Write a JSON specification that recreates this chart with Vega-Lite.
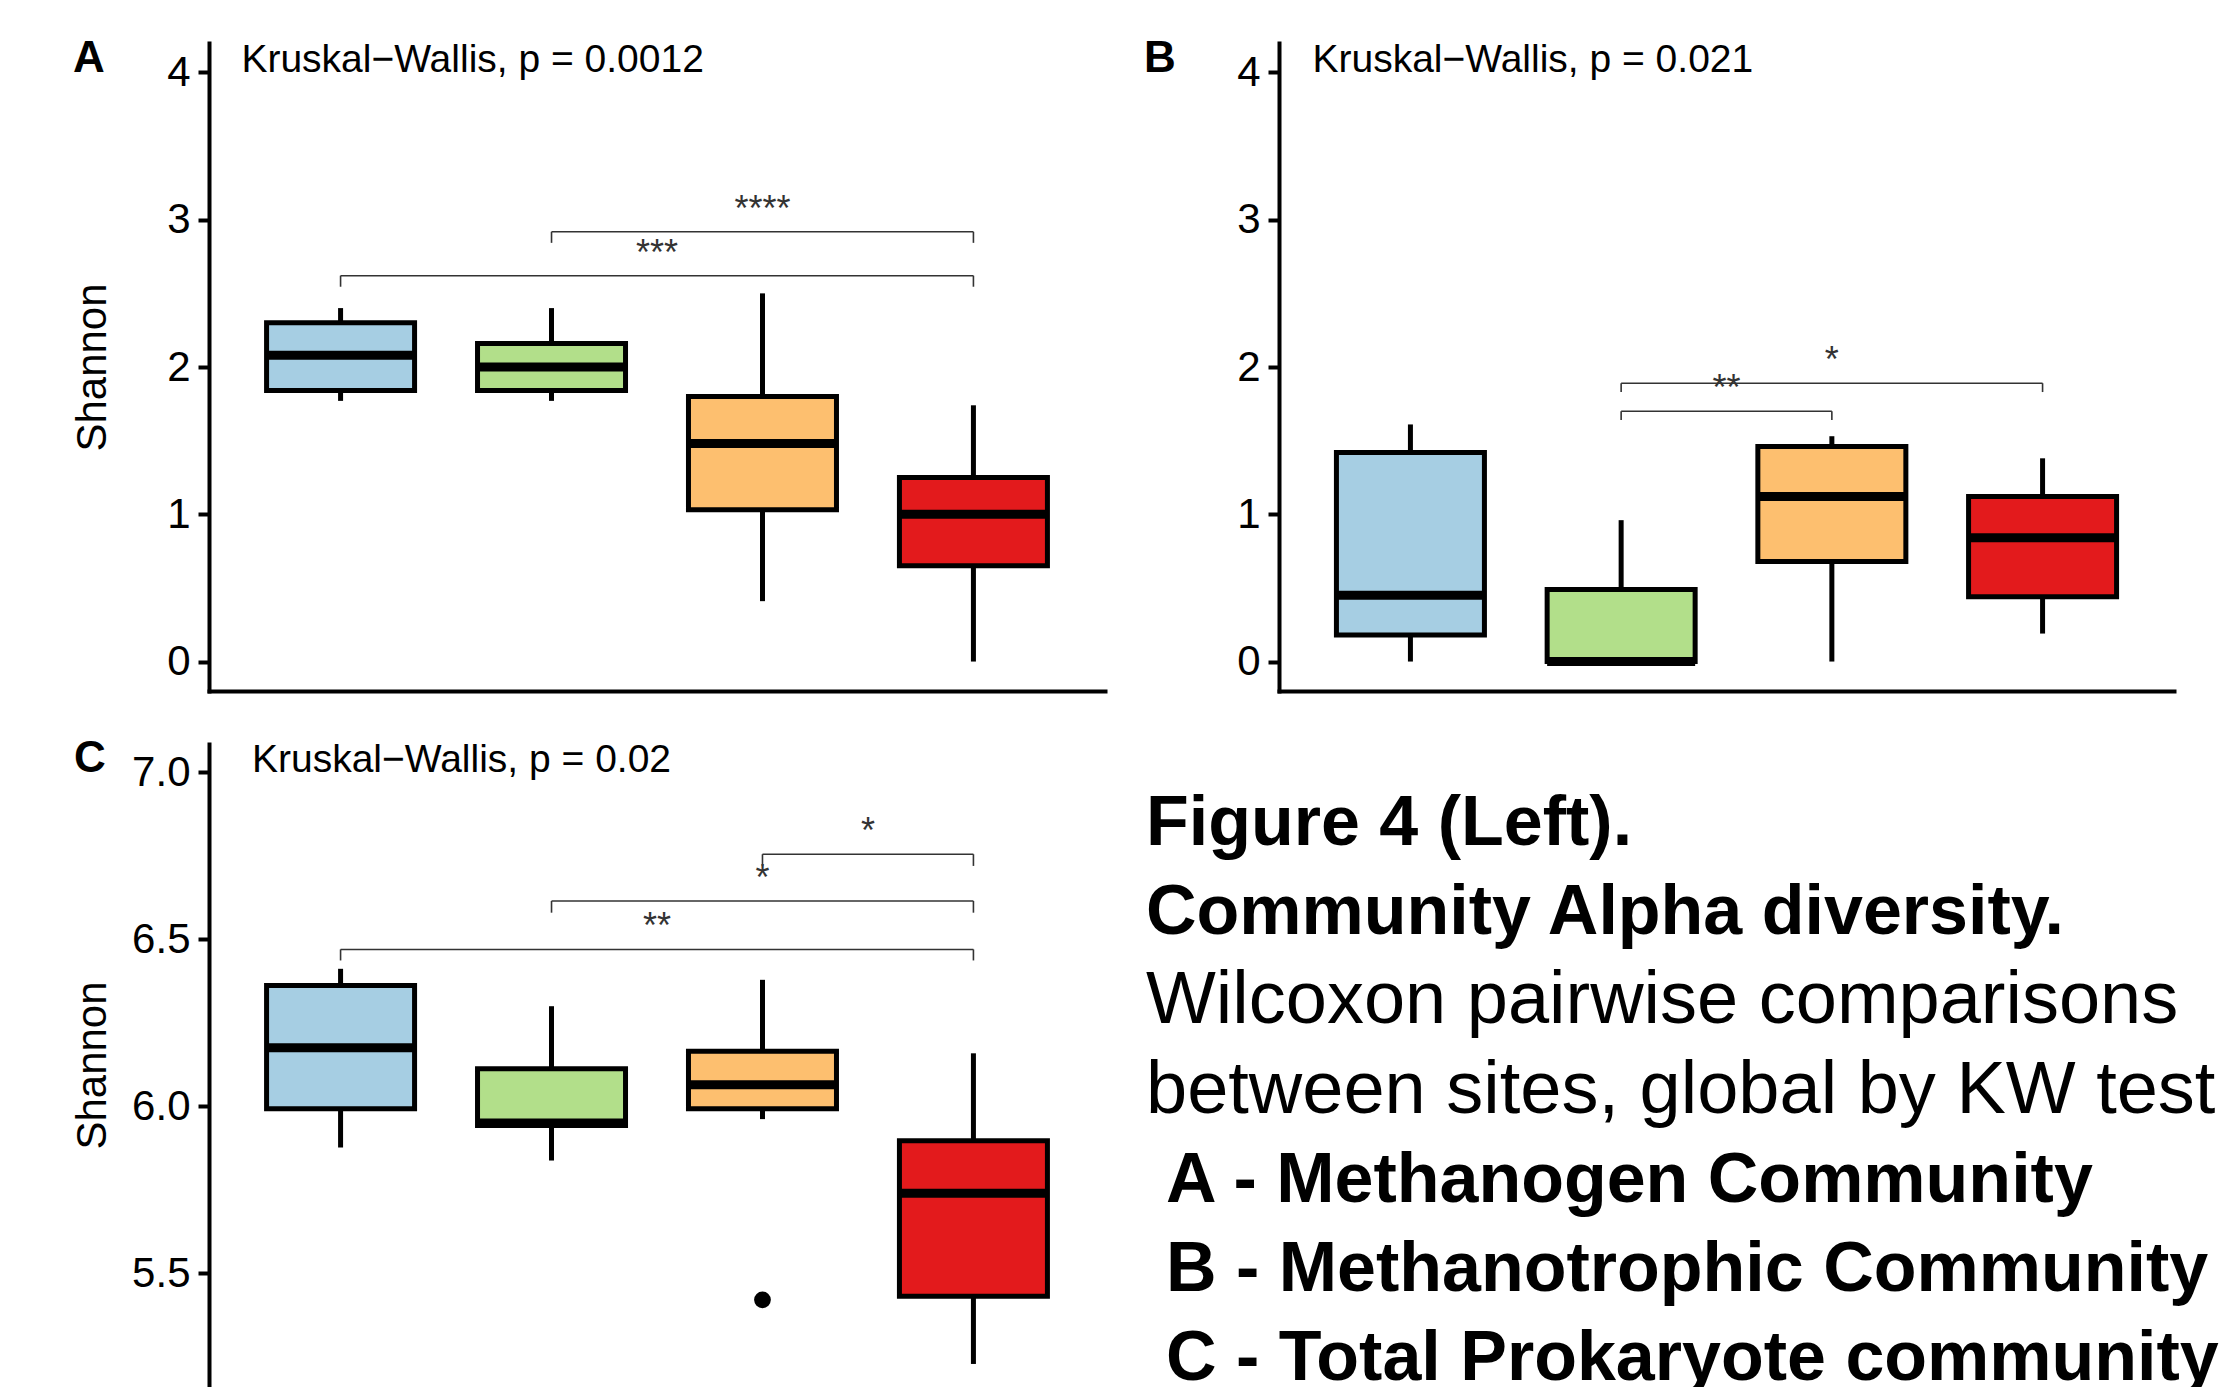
{
  "$schema": "https://vega.github.io/schema/vega-lite/v6.json",
  "background": "white",
  "padding": {"left": 71, "top": 37, "right": 0, "bottom": 0},
  "columns": 2,
  "align": "each",
  "bounds": "flush",
  "spacing": {"column": 174, "row": 53},
  "config": {
    "view": {"stroke": null},
    "font": "Liberation Sans",
    "axis": {
      "grid": false,
      "domainColor": "black",
      "domainWidth": 4,
      "domainCap": "square",
      "tickColor": "black",
      "tickWidth": 4,
      "tickSize": 11,
      "labelColor": "black",
      "labelFontSize": 42,
      "labelPadding": 8,
      "labelFont": "Liberation Sans",
      "titleFont": "Liberation Sans",
      "titleFontSize": 42,
      "titleFontWeight": "normal",
      "titleColor": "black"
    },
    "title": {"font": "Liberation Sans", "fontSize": 44, "fontWeight": "bold", "color": "black"}
  },
  "datasets": {
    "boxesA": [
      {"site": 1, "lower": 1.77, "q1": 1.84, "median": 2.08, "q3": 2.30, "upper": 2.40},
      {"site": 2, "lower": 1.77, "q1": 1.84, "median": 2.00, "q3": 2.16, "upper": 2.40},
      {"site": 3, "lower": 0.41, "q1": 1.03, "median": 1.48, "q3": 1.80, "upper": 2.50},
      {"site": 4, "lower": 0.00, "q1": 0.65, "median": 1.00, "q3": 1.25, "upper": 1.74}
    ],
    "boxesB": [
      {"site": 1, "lower": 0.00, "q1": 0.18, "median": 0.45, "q3": 1.42, "upper": 1.61},
      {"site": 2, "lower": 0.00, "q1": 0.00, "median": 0.00, "q3": 0.49, "upper": 0.96},
      {"site": 3, "lower": 0.00, "q1": 0.68, "median": 1.12, "q3": 1.46, "upper": 1.53},
      {"site": 4, "lower": 0.19, "q1": 0.44, "median": 0.84, "q3": 1.12, "upper": 1.38}
    ],
    "boxesC": [
      {"site": 1, "lower": 5.877, "q1": 5.993, "median": 6.176, "q3": 6.362, "upper": 6.412},
      {"site": 2, "lower": 5.838, "q1": 5.943, "median": 5.950, "q3": 6.113, "upper": 6.300},
      {"site": 3, "lower": 5.962, "q1": 5.993, "median": 6.065, "q3": 6.165, "upper": 6.379},
      {"site": 4, "lower": 5.229, "q1": 5.432, "median": 5.740, "q3": 5.897, "upper": 6.159}
    ],
    "outliersC": [
      {"site": 3, "shannon": 5.421}
    ],
    "sigA": [
      {"x1": 2, "x2": 4, "xmid": 3, "y": 2.918, "yend": 2.843, "label": "****"},
      {"x1": 1, "x2": 4, "xmid": 2.5, "y": 2.62, "yend": 2.545, "label": "***"}
    ],
    "sigB": [
      {"x1": 2, "x2": 4, "xmid": 3, "y": 1.89, "yend": 1.83, "label": "*"},
      {"x1": 2, "x2": 3, "xmid": 2.5, "y": 1.70, "yend": 1.64, "label": "**"}
    ],
    "sigC": [
      {"x1": 3, "x2": 4, "xmid": 3.5, "y": 6.755, "yend": 6.72, "label": "*"},
      {"x1": 2, "x2": 4, "xmid": 3, "y": 6.615, "yend": 6.58, "label": "*"},
      {"x1": 1, "x2": 4, "xmid": 2.5, "y": 6.47, "yend": 6.437, "label": "**"}
    ],
    "kwA": [{"x": 0.53, "y": 4.0, "label": "Kruskal−Wallis, p = 0.0012"}],
    "kwB": [{"x": 0.535, "y": 4.0, "label": "Kruskal−Wallis, p = 0.021"}],
    "kwC": [{"x": 0.58, "y": 7.0, "label": "Kruskal−Wallis, p = 0.02"}],
    "caption": [
      {"line": 1, "text": "Figure 4 (Left).", "role": "heading"},
      {"line": 2, "text": "Community Alpha diversity.", "role": "heading"},
      {"line": 3, "text": "Wilcoxon pairwise comparisons", "role": "note"},
      {"line": 4, "text": "between sites, global by KW test", "role": "note"},
      {"line": 5, "text": "A - Methanogen Community", "role": "panel"},
      {"line": 6, "text": "B - Methanotrophic Community", "role": "panel"},
      {"line": 7, "text": "C - Total Prokaryote community", "role": "panel"}
    ]
  },
  "concat": [
    {
      "width": 896,
      "height": 648,
      "title": {"text": "A", "anchor": "start", "frame": "group", "orient": "top", "offset": 0, "dx": -136, "dy": 75, "baseline": "alphabetic"},
      "layer": [
        {
          "data": {"name": "boxesA"},
          "mark": {"type": "rule", "strokeWidth": 5, "color": "black"},
          "encoding": {
            "x": {"field": "site", "type": "quantitative", "scale": {"domain": [0.4, 4.6], "nice": false, "zero": false}, "axis": {"title": null, "labels": false, "ticks": false, "domain": true}},
            "y": {"field": "lower", "type": "quantitative", "scale": {"domain": [-0.2, 4.2], "nice": false, "zero": false}, "axis": {"title": "Shannon", "values": [0, 1, 2, 3, 4], "titlePadding": 52}},
            "y2": {"field": "q1"}
          }
        },
        {
          "data": {"name": "boxesA"},
          "mark": {"type": "rule", "strokeWidth": 5, "color": "black"},
          "encoding": {
            "x": {"field": "site", "type": "quantitative", "scale": {"domain": [0.4, 4.6], "nice": false, "zero": false}, "axis": {"title": null, "labels": false, "ticks": false, "domain": true}},
            "y": {"field": "q3", "type": "quantitative", "scale": {"domain": [-0.2, 4.2], "nice": false, "zero": false}, "axis": {"title": "Shannon", "values": [0, 1, 2, 3, 4], "titlePadding": 52}},
            "y2": {"field": "upper"}
          }
        },
        {
          "data": {"name": "boxesA"},
          "mark": {"type": "bar", "orient": "vertical", "size": 148, "stroke": "black", "strokeWidth": 5, "opacity": 1},
          "encoding": {
            "x": {"field": "site", "type": "quantitative", "scale": {"domain": [0.4, 4.6], "nice": false, "zero": false}, "axis": {"title": null, "labels": false, "ticks": false, "domain": true}},
            "y": {"field": "q1", "type": "quantitative", "scale": {"domain": [-0.2, 4.2], "nice": false, "zero": false}, "axis": {"title": "Shannon", "values": [0, 1, 2, 3, 4], "titlePadding": 52}},
            "y2": {"field": "q3"},
            "color": {"field": "site", "type": "nominal", "scale": {"domain": [1, 2, 3, 4], "range": ["#A6CEE3", "#B2DF8A", "#FDBF6F", "#E31A1C"]}, "legend": null}
          }
        },
        {
          "data": {"name": "boxesA"},
          "mark": {"type": "tick", "orient": "horizontal", "size": 148, "thickness": 9, "color": "black", "opacity": 1},
          "encoding": {
            "x": {"field": "site", "type": "quantitative", "scale": {"domain": [0.4, 4.6], "nice": false, "zero": false}, "axis": {"title": null, "labels": false, "ticks": false, "domain": true}},
            "y": {"field": "median", "type": "quantitative", "scale": {"domain": [-0.2, 4.2], "nice": false, "zero": false}, "axis": {"title": "Shannon", "values": [0, 1, 2, 3, 4], "titlePadding": 52}}
          }
        },
        {
          "data": {"name": "sigA"},
          "mark": {"type": "rule", "strokeWidth": 1.6, "color": "#333333"},
          "encoding": {
            "x": {"field": "x1", "type": "quantitative", "scale": {"domain": [0.4, 4.6], "nice": false, "zero": false}, "axis": {"title": null, "labels": false, "ticks": false, "domain": true}},
            "x2": {"field": "x2"},
            "y": {"field": "y", "type": "quantitative", "scale": {"domain": [-0.2, 4.2], "nice": false, "zero": false}, "axis": {"title": "Shannon", "values": [0, 1, 2, 3, 4], "titlePadding": 52}}
          }
        },
        {
          "data": {"name": "sigA"},
          "mark": {"type": "rule", "strokeWidth": 1.6, "color": "#333333"},
          "encoding": {
            "x": {"field": "x1", "type": "quantitative", "scale": {"domain": [0.4, 4.6], "nice": false, "zero": false}, "axis": {"title": null, "labels": false, "ticks": false, "domain": true}},
            "y": {"field": "y", "type": "quantitative", "scale": {"domain": [-0.2, 4.2], "nice": false, "zero": false}, "axis": {"title": "Shannon", "values": [0, 1, 2, 3, 4], "titlePadding": 52}},
            "y2": {"field": "yend"}
          }
        },
        {
          "data": {"name": "sigA"},
          "mark": {"type": "rule", "strokeWidth": 1.6, "color": "#333333"},
          "encoding": {
            "x": {"field": "x2", "type": "quantitative", "scale": {"domain": [0.4, 4.6], "nice": false, "zero": false}, "axis": {"title": null, "labels": false, "ticks": false, "domain": true}},
            "y": {"field": "y", "type": "quantitative", "scale": {"domain": [-0.2, 4.2], "nice": false, "zero": false}, "axis": {"title": "Shannon", "values": [0, 1, 2, 3, 4], "titlePadding": 52}},
            "y2": {"field": "yend"}
          }
        },
        {
          "data": {"name": "sigA"},
          "mark": {"type": "text", "fontSize": 36, "color": "#333333", "align": "center", "baseline": "alphabetic", "dy": -11},
          "encoding": {
            "x": {"field": "xmid", "type": "quantitative", "scale": {"domain": [0.4, 4.6], "nice": false, "zero": false}, "axis": {"title": null, "labels": false, "ticks": false, "domain": true}},
            "y": {"field": "y", "type": "quantitative", "scale": {"domain": [-0.2, 4.2], "nice": false, "zero": false}, "axis": {"title": "Shannon", "values": [0, 1, 2, 3, 4], "titlePadding": 52}},
            "text": {"field": "label"}
          }
        },
        {
          "data": {"name": "kwA"},
          "mark": {"type": "text", "fontSize": 39, "color": "black", "align": "left", "baseline": "alphabetic"},
          "encoding": {
            "x": {"field": "x", "type": "quantitative", "scale": {"domain": [0.4, 4.6], "nice": false, "zero": false}, "axis": {"title": null, "labels": false, "ticks": false, "domain": true}},
            "y": {"field": "y", "type": "quantitative", "scale": {"domain": [-0.2, 4.2], "nice": false, "zero": false}, "axis": {"title": "Shannon", "values": [0, 1, 2, 3, 4], "titlePadding": 52}},
            "text": {"field": "label"}
          }
        }
      ]
    },
    {
      "width": 895,
      "height": 648,
      "title": {"text": "B", "anchor": "start", "frame": "group", "orient": "top", "offset": 0, "dx": -135, "dy": 75, "baseline": "alphabetic"},
      "layer": [
        {
          "data": {"name": "boxesB"},
          "mark": {"type": "rule", "strokeWidth": 5, "color": "black"},
          "encoding": {
            "x": {"field": "site", "type": "quantitative", "scale": {"domain": [0.4, 4.6], "nice": false, "zero": false}, "axis": {"title": null, "labels": false, "ticks": false, "domain": true}},
            "y": {"field": "lower", "type": "quantitative", "scale": {"domain": [-0.2, 4.2], "nice": false, "zero": false}, "axis": {"title": null, "values": [0, 1, 2, 3, 4]}},
            "y2": {"field": "q1"}
          }
        },
        {
          "data": {"name": "boxesB"},
          "mark": {"type": "rule", "strokeWidth": 5, "color": "black"},
          "encoding": {
            "x": {"field": "site", "type": "quantitative", "scale": {"domain": [0.4, 4.6], "nice": false, "zero": false}, "axis": {"title": null, "labels": false, "ticks": false, "domain": true}},
            "y": {"field": "q3", "type": "quantitative", "scale": {"domain": [-0.2, 4.2], "nice": false, "zero": false}, "axis": {"title": null, "values": [0, 1, 2, 3, 4]}},
            "y2": {"field": "upper"}
          }
        },
        {
          "data": {"name": "boxesB"},
          "mark": {"type": "bar", "orient": "vertical", "size": 148, "stroke": "black", "strokeWidth": 5, "opacity": 1},
          "encoding": {
            "x": {"field": "site", "type": "quantitative", "scale": {"domain": [0.4, 4.6], "nice": false, "zero": false}, "axis": {"title": null, "labels": false, "ticks": false, "domain": true}},
            "y": {"field": "q1", "type": "quantitative", "scale": {"domain": [-0.2, 4.2], "nice": false, "zero": false}, "axis": {"title": null, "values": [0, 1, 2, 3, 4]}},
            "y2": {"field": "q3"},
            "color": {"field": "site", "type": "nominal", "scale": {"domain": [1, 2, 3, 4], "range": ["#A6CEE3", "#B2DF8A", "#FDBF6F", "#E31A1C"]}, "legend": null}
          }
        },
        {
          "data": {"name": "boxesB"},
          "mark": {"type": "tick", "orient": "horizontal", "size": 148, "thickness": 9, "color": "black", "opacity": 1},
          "encoding": {
            "x": {"field": "site", "type": "quantitative", "scale": {"domain": [0.4, 4.6], "nice": false, "zero": false}, "axis": {"title": null, "labels": false, "ticks": false, "domain": true}},
            "y": {"field": "median", "type": "quantitative", "scale": {"domain": [-0.2, 4.2], "nice": false, "zero": false}, "axis": {"title": null, "values": [0, 1, 2, 3, 4]}}
          }
        },
        {
          "data": {"name": "sigB"},
          "mark": {"type": "rule", "strokeWidth": 1.6, "color": "#333333"},
          "encoding": {
            "x": {"field": "x1", "type": "quantitative", "scale": {"domain": [0.4, 4.6], "nice": false, "zero": false}, "axis": {"title": null, "labels": false, "ticks": false, "domain": true}},
            "x2": {"field": "x2"},
            "y": {"field": "y", "type": "quantitative", "scale": {"domain": [-0.2, 4.2], "nice": false, "zero": false}, "axis": {"title": null, "values": [0, 1, 2, 3, 4]}}
          }
        },
        {
          "data": {"name": "sigB"},
          "mark": {"type": "rule", "strokeWidth": 1.6, "color": "#333333"},
          "encoding": {
            "x": {"field": "x1", "type": "quantitative", "scale": {"domain": [0.4, 4.6], "nice": false, "zero": false}, "axis": {"title": null, "labels": false, "ticks": false, "domain": true}},
            "y": {"field": "y", "type": "quantitative", "scale": {"domain": [-0.2, 4.2], "nice": false, "zero": false}, "axis": {"title": null, "values": [0, 1, 2, 3, 4]}},
            "y2": {"field": "yend"}
          }
        },
        {
          "data": {"name": "sigB"},
          "mark": {"type": "rule", "strokeWidth": 1.6, "color": "#333333"},
          "encoding": {
            "x": {"field": "x2", "type": "quantitative", "scale": {"domain": [0.4, 4.6], "nice": false, "zero": false}, "axis": {"title": null, "labels": false, "ticks": false, "domain": true}},
            "y": {"field": "y", "type": "quantitative", "scale": {"domain": [-0.2, 4.2], "nice": false, "zero": false}, "axis": {"title": null, "values": [0, 1, 2, 3, 4]}},
            "y2": {"field": "yend"}
          }
        },
        {
          "data": {"name": "sigB"},
          "mark": {"type": "text", "fontSize": 36, "color": "#333333", "align": "center", "baseline": "alphabetic", "dy": -11},
          "encoding": {
            "x": {"field": "xmid", "type": "quantitative", "scale": {"domain": [0.4, 4.6], "nice": false, "zero": false}, "axis": {"title": null, "labels": false, "ticks": false, "domain": true}},
            "y": {"field": "y", "type": "quantitative", "scale": {"domain": [-0.2, 4.2], "nice": false, "zero": false}, "axis": {"title": null, "values": [0, 1, 2, 3, 4]}},
            "text": {"field": "label"}
          }
        },
        {
          "data": {"name": "kwB"},
          "mark": {"type": "text", "fontSize": 39, "color": "black", "align": "left", "baseline": "alphabetic"},
          "encoding": {
            "x": {"field": "x", "type": "quantitative", "scale": {"domain": [0.4, 4.6], "nice": false, "zero": false}, "axis": {"title": null, "labels": false, "ticks": false, "domain": true}},
            "y": {"field": "y", "type": "quantitative", "scale": {"domain": [-0.2, 4.2], "nice": false, "zero": false}, "axis": {"title": null, "values": [0, 1, 2, 3, 4]}},
            "text": {"field": "label"}
          }
        }
      ]
    },
    {
      "width": 896,
      "height": 642,
      "title": {"text": "C", "anchor": "start", "frame": "group", "orient": "top", "offset": 0, "dx": -135, "dy": 75, "baseline": "alphabetic"},
      "layer": [
        {
          "data": {"name": "boxesC"},
          "mark": {"type": "rule", "strokeWidth": 5, "color": "black"},
          "encoding": {
            "x": {"field": "site", "type": "quantitative", "scale": {"domain": [0.4, 4.6], "nice": false, "zero": false}, "axis": null},
            "y": {"field": "lower", "type": "quantitative", "scale": {"domain": [5.163, 7.085], "nice": false, "zero": false}, "axis": {"title": "Shannon", "values": [5.5, 6.0, 6.5, 7.0], "format": ".1f", "titlePadding": 17}},
            "y2": {"field": "q1"}
          }
        },
        {
          "data": {"name": "boxesC"},
          "mark": {"type": "rule", "strokeWidth": 5, "color": "black"},
          "encoding": {
            "x": {"field": "site", "type": "quantitative", "scale": {"domain": [0.4, 4.6], "nice": false, "zero": false}, "axis": null},
            "y": {"field": "q3", "type": "quantitative", "scale": {"domain": [5.163, 7.085], "nice": false, "zero": false}, "axis": {"title": "Shannon", "values": [5.5, 6.0, 6.5, 7.0], "format": ".1f", "titlePadding": 17}},
            "y2": {"field": "upper"}
          }
        },
        {
          "data": {"name": "boxesC"},
          "mark": {"type": "bar", "orient": "vertical", "size": 148, "stroke": "black", "strokeWidth": 5, "opacity": 1},
          "encoding": {
            "x": {"field": "site", "type": "quantitative", "scale": {"domain": [0.4, 4.6], "nice": false, "zero": false}, "axis": null},
            "y": {"field": "q1", "type": "quantitative", "scale": {"domain": [5.163, 7.085], "nice": false, "zero": false}, "axis": {"title": "Shannon", "values": [5.5, 6.0, 6.5, 7.0], "format": ".1f", "titlePadding": 17}},
            "y2": {"field": "q3"},
            "color": {"field": "site", "type": "nominal", "scale": {"domain": [1, 2, 3, 4], "range": ["#A6CEE3", "#B2DF8A", "#FDBF6F", "#E31A1C"]}, "legend": null}
          }
        },
        {
          "data": {"name": "boxesC"},
          "mark": {"type": "tick", "orient": "horizontal", "size": 148, "thickness": 9, "color": "black", "opacity": 1},
          "encoding": {
            "x": {"field": "site", "type": "quantitative", "scale": {"domain": [0.4, 4.6], "nice": false, "zero": false}, "axis": null},
            "y": {"field": "median", "type": "quantitative", "scale": {"domain": [5.163, 7.085], "nice": false, "zero": false}, "axis": {"title": "Shannon", "values": [5.5, 6.0, 6.5, 7.0], "format": ".1f", "titlePadding": 17}}
          }
        },
        {
          "data": {"name": "outliersC"},
          "mark": {"type": "point", "filled": true, "size": 280, "color": "black", "opacity": 1},
          "encoding": {
            "x": {"field": "site", "type": "quantitative", "scale": {"domain": [0.4, 4.6], "nice": false, "zero": false}, "axis": null},
            "y": {"field": "shannon", "type": "quantitative", "scale": {"domain": [5.163, 7.085], "nice": false, "zero": false}, "axis": {"title": "Shannon", "values": [5.5, 6.0, 6.5, 7.0], "format": ".1f", "titlePadding": 17}}
          }
        },
        {
          "data": {"name": "sigC"},
          "mark": {"type": "rule", "strokeWidth": 1.6, "color": "#333333"},
          "encoding": {
            "x": {"field": "x1", "type": "quantitative", "scale": {"domain": [0.4, 4.6], "nice": false, "zero": false}, "axis": null},
            "x2": {"field": "x2"},
            "y": {"field": "y", "type": "quantitative", "scale": {"domain": [5.163, 7.085], "nice": false, "zero": false}, "axis": {"title": "Shannon", "values": [5.5, 6.0, 6.5, 7.0], "format": ".1f", "titlePadding": 17}}
          }
        },
        {
          "data": {"name": "sigC"},
          "mark": {"type": "rule", "strokeWidth": 1.6, "color": "#333333"},
          "encoding": {
            "x": {"field": "x1", "type": "quantitative", "scale": {"domain": [0.4, 4.6], "nice": false, "zero": false}, "axis": null},
            "y": {"field": "y", "type": "quantitative", "scale": {"domain": [5.163, 7.085], "nice": false, "zero": false}, "axis": {"title": "Shannon", "values": [5.5, 6.0, 6.5, 7.0], "format": ".1f", "titlePadding": 17}},
            "y2": {"field": "yend"}
          }
        },
        {
          "data": {"name": "sigC"},
          "mark": {"type": "rule", "strokeWidth": 1.6, "color": "#333333"},
          "encoding": {
            "x": {"field": "x2", "type": "quantitative", "scale": {"domain": [0.4, 4.6], "nice": false, "zero": false}, "axis": null},
            "y": {"field": "y", "type": "quantitative", "scale": {"domain": [5.163, 7.085], "nice": false, "zero": false}, "axis": {"title": "Shannon", "values": [5.5, 6.0, 6.5, 7.0], "format": ".1f", "titlePadding": 17}},
            "y2": {"field": "yend"}
          }
        },
        {
          "data": {"name": "sigC"},
          "mark": {"type": "text", "fontSize": 36, "color": "#333333", "align": "center", "baseline": "alphabetic", "dy": -11},
          "encoding": {
            "x": {"field": "xmid", "type": "quantitative", "scale": {"domain": [0.4, 4.6], "nice": false, "zero": false}, "axis": null},
            "y": {"field": "y", "type": "quantitative", "scale": {"domain": [5.163, 7.085], "nice": false, "zero": false}, "axis": {"title": "Shannon", "values": [5.5, 6.0, 6.5, 7.0], "format": ".1f", "titlePadding": 17}},
            "text": {"field": "label"}
          }
        },
        {
          "data": {"name": "kwC"},
          "mark": {"type": "text", "fontSize": 39, "color": "black", "align": "left", "baseline": "alphabetic"},
          "encoding": {
            "x": {"field": "x", "type": "quantitative", "scale": {"domain": [0.4, 4.6], "nice": false, "zero": false}, "axis": null},
            "y": {"field": "y", "type": "quantitative", "scale": {"domain": [5.163, 7.085], "nice": false, "zero": false}, "axis": {"title": "Shannon", "values": [5.5, 6.0, 6.5, 7.0], "format": ".1f", "titlePadding": 17}},
            "text": {"field": "label"}
          }
        }
      ]
    },
    {
      "width": 895,
      "height": 642,
      "data": {"name": "caption"},
      "layer": [
        {
          "transform": [{"filter": "datum.role === 'heading'"}],
          "mark": {"type": "text", "fontSize": 70, "fontWeight": "bold", "color": "black", "align": "left", "baseline": "alphabetic", "dx": -133},
          "encoding": {
            "x": {"datum": 0, "type": "quantitative", "scale": {"domain": [0, 1]}, "axis": null},
            "y": {"field": "line", "type": "quantitative", "scale": {"domain": [-0.1327, 7.067], "reverse": true, "nice": false, "zero": false}, "axis": null},
            "text": {"field": "text"}
          }
        },
        {
          "transform": [{"filter": "datum.role === 'note'"}],
          "mark": {"type": "text", "fontSize": 74, "fontWeight": "normal", "color": "black", "align": "left", "baseline": "alphabetic", "dx": -133},
          "encoding": {
            "x": {"datum": 0, "type": "quantitative", "scale": {"domain": [0, 1]}, "axis": null},
            "y": {"field": "line", "type": "quantitative", "scale": {"domain": [-0.1327, 7.067], "reverse": true, "nice": false, "zero": false}, "axis": null},
            "text": {"field": "text"}
          }
        },
        {
          "transform": [{"filter": "datum.role === 'panel'"}],
          "mark": {"type": "text", "fontSize": 70, "fontWeight": "bold", "color": "black", "align": "left", "baseline": "alphabetic", "dx": -113},
          "encoding": {
            "x": {"datum": 0, "type": "quantitative", "scale": {"domain": [0, 1]}, "axis": null},
            "y": {"field": "line", "type": "quantitative", "scale": {"domain": [-0.1327, 7.067], "reverse": true, "nice": false, "zero": false}, "axis": null},
            "text": {"field": "text"}
          }
        }
      ]
    }
  ]
}
